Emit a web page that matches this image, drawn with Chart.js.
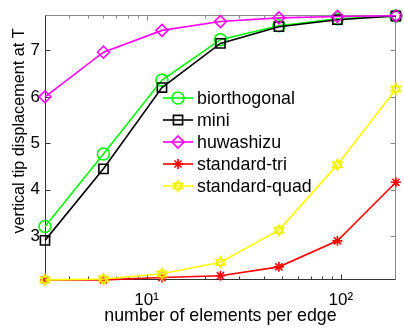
<!DOCTYPE html>
<html><head><meta charset="utf-8">
<script src="https://cdn.jsdelivr.net/npm/chart.js@4"></script>
<style>html,body{margin:0;padding:0;background:#fff}#w{width:404px;height:328px;position:relative}</style>
</head><body><div id="w"><canvas id="c"></canvas></div>
<script>
const elementsPerEdge = [3, 6, 12, 24, 48, 96, 192];
const biorthogonal = [3.21, 4.77, 6.36, 7.23, 7.53, 7.68, 7.74];
const mini = [2.91, 4.45, 6.20, 7.15, 7.51, 7.66, 7.74];
const huwashizu = [6.00, 6.96, 7.43, 7.62, 7.70, 7.73, 7.745];
const standardTri = [2.06, 2.06, 2.11, 2.15, 2.34, 2.90, 4.16];
const standardQuad = [2.06, 2.08, 2.19, 2.44, 3.13, 4.54, 6.17];
const seriesNames = ['biorthogonal', 'mini', 'huwashizu', 'standard-tri', 'standard-quad'];
const xTickValues = [10, 100];
const xTickLabels = ['10\u00B9', '10\u00B2'];
const xMinorTicks = [4, 5, 6, 7, 8, 9, 20, 30, 40, 50, 60, 70, 80, 90];
const yTickValues = [3, 4, 5, 6, 7];
const yTickLabels = ['3', '4', '5', '6', '7'];
const xTitle = 'number of elements per edge';
const yTitle = 'vertical tip displacement at T';

const FONT = "'Liberation Sans', Arial, Helvetica, sans-serif";
Chart.defaults.font.family = FONT;
Chart.defaults.font.size = 17;
Chart.defaults.color = '#000';

function hexagram(color, r) {
  const s = Math.ceil(2 * r + 4);
  const cv = document.createElement('canvas');
  cv.width = s; cv.height = s;
  const g = cv.getContext('2d');
  g.strokeStyle = color; g.lineWidth = 1.5;
  const c = s / 2;
  [-90, 90].forEach(start => {
    g.beginPath();
    for (let k = 0; k < 3; k++) {
      const a = (start + k * 120) * Math.PI / 180;
      const px = c + r * Math.cos(a), py = c + r * Math.sin(a);
      if (k === 0) g.moveTo(px, py); else g.lineTo(px, py);
    }
    g.closePath(); g.stroke();
  });
  return cv;
}

const styles = [
  {color: '#00ff00', pointStyle: 'circle', radius: 6},
  {color: '#000000', pointStyle: 'rect', radius: 6.5},
  {color: '#ff00ff', pointStyle: 'rectRot', radius: 6},
  {color: '#ff0000', pointStyle: 'star', radius: 5},
  {color: '#ffff00', pointStyle: hexagram('#f0f000', 5.5), radius: 6}
];
const seriesData = [biorthogonal, mini, huwashizu, standardTri, standardQuad];

const datasets = seriesData.map((vals, i) => ({
  label: seriesNames[i],
  data: elementsPerEdge.map((x, j) => ({x: x, y: vals[j]})),
  borderColor: styles[i].color,
  backgroundColor: 'rgba(0,0,0,0)',
  pointBorderColor: styles[i].color,
  pointBackgroundColor: 'rgba(0,0,0,0)',
  pointStyle: styles[i].pointStyle,
  pointRadius: styles[i].radius,
  pointBorderWidth: 1.6,
  borderWidth: 1.6,
  tension: 0,
  clip: false,
  order: seriesData.length - i
}));

const boxTicks = {
  id: 'boxTicks',
  beforeDatasetsDraw(chart) {
    const {ctx, chartArea: a, scales: {x, y}} = chart;
    ctx.save();
    ctx.lineWidth = 1;
    const L = Math.round(a.left) + 0.5, R = Math.round(a.right) - 0.5;
    const T = Math.round(a.top) + 0.5, B = Math.round(a.bottom) - 0.5;
    ctx.strokeStyle = '#888';
    ctx.beginPath();
    ctx.moveTo(L, T); ctx.lineTo(R, T); ctx.lineTo(R, B);
    xTickValues.forEach(v => {
      const px = Math.round(x.getPixelForValue(v)) + 0.5;
      ctx.moveTo(px, T); ctx.lineTo(px, T + 5);
    });
    xMinorTicks.forEach(v => {
      const px = Math.round(x.getPixelForValue(v)) + 0.5;
      ctx.moveTo(px, T); ctx.lineTo(px, T + 3);
    });
    yTickValues.forEach(v => {
      const py = Math.round(y.getPixelForValue(v)) + 0.5;
      ctx.moveTo(R, py); ctx.lineTo(R - 5, py);
    });
    ctx.stroke();
    ctx.strokeStyle = '#333';
    ctx.beginPath();
    ctx.moveTo(L, T); ctx.lineTo(L, B); ctx.lineTo(R, B);
    xTickValues.forEach(v => {
      const px = Math.round(x.getPixelForValue(v)) + 0.5;
      ctx.moveTo(px, B); ctx.lineTo(px, B - 5);
    });
    xMinorTicks.forEach(v => {
      const px = Math.round(x.getPixelForValue(v)) + 0.5;
      ctx.moveTo(px, B); ctx.lineTo(px, B - 3);
    });
    yTickValues.forEach(v => {
      const py = Math.round(y.getPixelForValue(v)) + 0.5;
      ctx.moveTo(L, py); ctx.lineTo(L + 5, py);
    });
    ctx.stroke();
    ctx.restore();
  },
  afterDraw(chart) {
    const {ctx} = chart;
    ctx.save();
    ctx.fillStyle = '#000';
    ctx.font = '16.2px ' + FONT;
    ctx.textAlign = 'center';
    ctx.textBaseline = 'middle';
    ctx.translate(19.5, 131);
    ctx.rotate(-Math.PI / 2);
    ctx.fillText(yTitle, 0, 0);
    ctx.restore();
  }
};

const lineLegend = {
  id: 'lineLegend',
  afterDatasetsDraw(chart) {
    const {ctx} = chart;
    ctx.save();
    ctx.font = '17.8px ' + FONT;
    ctx.textBaseline = 'middle';
    chart.data.datasets.forEach((ds, i) => {
      const yy = 98 + 22 * i;
      ctx.strokeStyle = ds.borderColor;
      ctx.fillStyle = 'rgba(0,0,0,0)';
      ctx.lineWidth = ds.borderWidth;
      ctx.beginPath(); ctx.moveTo(163, yy); ctx.lineTo(193, yy); ctx.stroke();
      ctx.lineWidth = ds.pointBorderWidth;
      ctx.strokeStyle = ds.pointBorderColor;
      Chart.helpers.drawPoint(ctx, {
        pointStyle: ds.pointStyle, radius: ds.pointRadius, rotation: 0,
        borderWidth: ds.pointBorderWidth
      }, 178, yy);
      ctx.fillStyle = '#000';
      ctx.fillText(ds.label, 197, yy + 1);
    });
    ctx.restore();
  }
};

new Chart(document.getElementById('c'), {
  type: 'line',
  data: {datasets: datasets},
  options: {
    responsive: true,
    maintainAspectRatio: false,
    animation: false,
    layout: {padding: {top: 14, right: 6, left: 0, bottom: 0}},
    plugins: {legend: {display: false}, tooltip: {enabled: false}},
    scales: {
      x: {
        type: 'logarithmic',
        min: 3, max: 192,
        afterBuildTicks: s => { s.ticks = xTickValues.map(v => ({value: v})); },
        afterFit: s => { s.height = 48; },
        ticks: {
          padding: 10,
          autoSkip: false,
          maxRotation: 0,
          callback: (v) => { const k = xTickValues.indexOf(v); return k >= 0 ? xTickLabels[k] : ''; }
        },
        grid: {display: false, drawTicks: false},
        border: {display: false},
        title: {display: true, text: xTitle, font: {size: 17.8}, padding: {top: 0, bottom: 1}}
      },
      y: {
        type: 'linear',
        min: 2.057, max: 7.757,
        afterBuildTicks: s => { s.ticks = yTickValues.map(v => ({value: v})); },
        afterFit: s => { s.width = 45; },
        ticks: {
          padding: 5,
          callback: (v) => { const k = yTickValues.indexOf(v); return k >= 0 ? yTickLabels[k] : ''; }
        },
        grid: {display: false, drawTicks: false},
        border: {display: false},
        title: {display: false}
      }
    }
  },
  plugins: [boxTicks, lineLegend]
});
</script>
</body></html>
